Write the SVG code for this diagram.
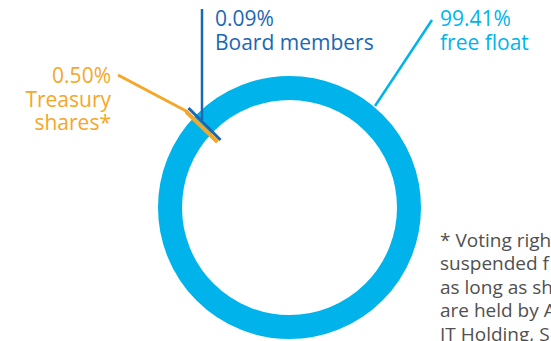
<svg xmlns="http://www.w3.org/2000/svg" width="551" height="341" viewBox="0 0 551 341">
<style>
text{font-family:"Open Sans","Liberation Sans",sans-serif;font-size:21px}
.lb{fill:#00b4eb}.db{fill:#1a68b3}.or{fill:#f6a628}
.note{font-size:19px;fill:#505050}
.ln{fill:none}
</style>
<rect width="551" height="341" fill="#ffffff"/>
<g id="ring">
<circle cx="289.5" cy="207.5" r="119.5" fill="none" stroke="#00b4eb" stroke-width="24"/>
</g>
<g id="connectors" class="ln">
<line x1="375" y1="106" x2="432" y2="20" stroke="#00b4eb" stroke-width="2.5"/>
<line x1="202" y1="9" x2="202" y2="120" stroke="#1a68b3" stroke-width="2.5"/>
<line x1="118" y1="75" x2="188" y2="112" stroke="#f6a628" stroke-width="3"/>
<line x1="188.5" y1="108" x2="220.5" y2="140" stroke="#1a68b3" stroke-width="3"/>
<line x1="186" y1="111.5" x2="217.5" y2="142" stroke="#f6a628" stroke-width="4"/>
</g>
<g id="free-float">
<text class="lb" x="440" y="26">99.41%</text>
<text class="lb" x="440" y="50">free float</text>
</g>
<g id="board-members">
<text class="db" x="215" y="26">0.09%</text>
<text class="db" x="215" y="50">Board members</text>
</g>
<g id="treasury-shares">
<text class="or" x="111" y="83" text-anchor="end">0.50%</text>
<text class="or" x="111" y="107" text-anchor="end">Treasury</text>
<text class="or" x="111" y="130" text-anchor="end">shares*</text>
</g>
<g id="footnote">
<text class="note" x="440" y="247">* Voting righ</text>
<text class="note" x="440" y="270">suspended f</text>
<text class="note" x="440" y="294">as long as sh</text>
<text class="note" x="440" y="317">are held by A</text>
<text class="note" x="440" y="341">IT Holding, S</text>
</g>
</svg>
